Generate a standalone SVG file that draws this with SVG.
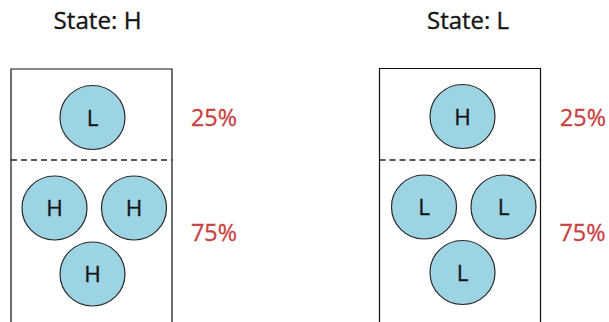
<svg xmlns="http://www.w3.org/2000/svg" width="609" height="322" viewBox="0 0 609 322">
<style>
.box{fill:none;stroke:#111;stroke-width:1.2}
.dash{stroke:#222;stroke-width:1.3;stroke-dasharray:6 4}
.c{fill:#9dd4e4;stroke:#2a2a2a;stroke-width:1.2}
.t{font-family:"Open Sans","Liberation Sans",sans-serif;fill:#151515;stroke:#151515;stroke-width:0.35}
.title{font-size:24px}
.lbl{font-size:22.5px;text-anchor:middle}
.pct{font-family:"Open Sans","Liberation Sans",sans-serif;font-size:23px;fill:#c8403f;stroke:#c8403f;stroke-width:0.3}
</style>
<rect width="609" height="322" fill="#fff"/>
<g id="left">
<text class="t title" x="53.5" y="29" textLength="88" lengthAdjust="spacingAndGlyphs">State: H</text>
<path class="box" d="M11,323 V69 H172 V323"/>
<line class="dash" x1="11" y1="160" x2="172" y2="160"/>
<g id="left-top"><ellipse class="c" cx="92.5" cy="117.5" rx="32.5" ry="32"/><text class="t lbl" x="92.5" y="125.5">L</text></g>
<g id="left-a"><ellipse class="c" cx="54.5" cy="208" rx="32.5" ry="32"/><text class="t lbl" x="54.5" y="216">H</text></g>
<g id="left-b"><ellipse class="c" cx="134" cy="208" rx="32.5" ry="32"/><text class="t lbl" x="134" y="216">H</text></g>
<g id="left-c"><ellipse class="c" cx="92.5" cy="274" rx="32.5" ry="32"/><text class="t lbl" x="92.5" y="282">H</text></g>
<text class="pct" x="191" y="126" textLength="46" lengthAdjust="spacingAndGlyphs">25%</text>
<text class="pct" x="191" y="241" textLength="46" lengthAdjust="spacingAndGlyphs">75%</text>
</g>
<g id="right">
<text class="t title" x="427" y="29" textLength="82" lengthAdjust="spacingAndGlyphs">State: L</text>
<path class="box" d="M379.5,323 V68.5 H540.5 V323"/>
<line class="dash" x1="379.5" y1="160" x2="540.5" y2="160"/>
<g id="right-top"><ellipse class="c" cx="462.5" cy="116.5" rx="32.5" ry="32"/><text class="t lbl" x="462.5" y="124.5">H</text></g>
<g id="right-a"><ellipse class="c" cx="424" cy="207" rx="32.5" ry="32"/><text class="t lbl" x="424" y="215">L</text></g>
<g id="right-b"><ellipse class="c" cx="503.5" cy="207" rx="32.5" ry="32"/><text class="t lbl" x="503.5" y="215">L</text></g>
<g id="right-c"><ellipse class="c" cx="462.5" cy="272.5" rx="32.5" ry="32"/><text class="t lbl" x="462.5" y="280.5">L</text></g>
<text class="pct" x="560" y="126" textLength="46" lengthAdjust="spacingAndGlyphs">25%</text>
<text class="pct" x="559.5" y="241" textLength="46" lengthAdjust="spacingAndGlyphs">75%</text>
</g>
</svg>
